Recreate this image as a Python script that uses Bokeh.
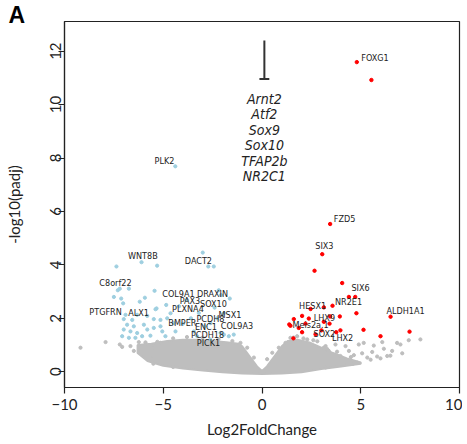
from bokeh.plotting import figure
from bokeh.models import Range1d, FixedTicker
from bokeh.embed import file_html
from bokeh.resources import INLINE
from bokeh.core.properties import value

# ---------------- data ----------------
x_ticks = [-10, -5, 0, 5, 10]
x_tick_labels = ["−10", "−5", "0", "5", "10"]
y_ticks = [0, 2, 4, 6, 8, 10, 12]
y_tick_labels = ["0", "2", "4", "6", "8", "10", "12"]

# outline of the dense non-significant core (log2FC, -log10 padj)
core_x = [-6.3, -5.6, -4.8, -4.0, -3.2, -2.5, -1.8, -1.2,
          -1.0, -0.6, -0.25, 0.0, 0.25, 0.6, 1.0,
          1.3, 1.8, 2.4, 3.0, 3.6, 4.3, 5.0,
          5.0, 4.0, 3.0, 2.0, 1.0, 0.0, -1.0, -2.0, -3.0, -4.0, -5.0, -5.8, -6.3]
core_y = [1.0, 1.05, 1.15, 1.2, 1.2, 1.15, 1.1, 1.05,
          0.95, 0.55, 0.2, 0.03, 0.2, 0.55, 0.95,
          1.15, 1.2, 1.1, 0.9, 0.7, 0.5, 0.35,
          0.3, 0.2, 0.1, -0.02, -0.07, -0.08, -0.07, -0.02, 0.05, 0.12, 0.22, 0.4, 0.7]

# scattered non-significant genes
gray_x = [8.02, 7.43, 7.01, 6.84, 6.09, 5.66, 5.15, 4.90, 4.23, 3.72, 6.17, 6.59, 7.10,
          5.58, 5.07, 4.65, 4.40, 6.34, 5.83, 5.33, 3.97, 3.38, 3.13, 3.47, 4.14, 3.64,
          4.82, 3.22, -9.19, -7.92, -7.20, -7.08, -6.66, -6.24, -5.90, -6.49, -6.07,
          -5.65, -5.14, -5.48, -5.14, -3.11, -1.09, -0.75, -0.41, 0.26, 0.52, 0.85, 1.19,
          1.44, 1.78, 2.29, 2.80, 3.22, -4.5, -3.8, -3.0, -2.2, -1.5, 1.6, 2.1, 2.6, 3.3,
          3.8, 4.5, -5.9, -5.3, -5.5, -4.5, 4.6, 5.5, 6.0, 6.5]
gray_y = [1.21, 1.18, 1.02, 1.08, 1.11, 0.98, 1.08, 1.02, 0.96, 1.02, 0.86, 0.78, 0.69,
          0.74, 0.69, 0.62, 0.78, 0.59, 0.57, 0.53, 0.59, 0.78, 0.90, 0.47, 0.28, 0.22,
          0.34, 0.16, 0.90, 1.11, 1.02, 0.93, 0.96, 1.11, 1.02, 0.78, 0.65,
          0.53, 0.47, 0.90, 1.08, 0.90, 1.08, 0.90, 0.53, 0.47, 0.71, 0.90, 1.08,
          1.27, 1.33, 1.21, 1.14, 0.96, 1.25, 1.30, 1.28, 1.22, 1.15, 1.28, 1.25, 1.18, 0.85,
          0.75, 0.55, 1.10, 1.12, 0.30, 0.18, 0.30, 0.45, 0.50, 0.60]

# significantly down-regulated genes (blue)
down_x = [-4.39, -6.10, -5.31, -7.37, -3.00, -2.72, -2.44, -6.74, -7.20, -7.30,
          -7.50, -7.13, -6.19, -5.93, -5.44, -7.03, -5.34, -1.63, -2.07, -2.19,
          -4.85, -5.39, -5.81, -5.48, -5.14, -6.91, -7.00, -6.57, -6.32,
          -6.83, -6.49, -5.98, -7.00, -6.66, -6.32, -5.81, -5.48, -5.14,
          -7.08, -6.74, -6.41, -6.07, -5.65, -5.05, -4.63, -4.47, -4.80, -4.89, -4.38,
          -1.93, -2.27, -1.93, -1.68, -2.61, -3.28, -3.45, -3.79, -2.10, -2.61, -1.43,
          -3.20, -2.90, -4.00, -3.60, -2.40, -4.20]
down_y = [7.69, 4.10, 3.97, 3.94, 4.46, 3.94, 3.94, 3.11, 3.11, 3.05,
          2.80, 2.74, 2.62, 2.77, 3.03, 2.56, 2.37, 2.74, 2.87, 3.05,
          2.50, 2.34, 2.09, 1.97, 1.94, 2.13, 1.97, 1.94, 2.13,
          1.76, 1.70, 1.76, 1.58, 1.51, 1.45, 1.58, 1.64, 1.70,
          1.33, 1.27, 1.27, 1.33, 1.35, 1.51, 2.19, 1.82, 2.00, 1.33, 1.51,
          2.19, 2.00, 1.39, 1.33, 1.21, 1.33, 1.51, 2.68, 1.45, 1.82, 1.39,
          2.20, 1.70, 1.80, 2.00, 2.40, 2.45]

# significantly up-regulated genes (red)
up_x = [4.80, 5.54, 3.45, 3.05, 2.66, 4.06, 4.40, 4.72, 3.57, 2.46, 3.13, 4.78, 6.51,
        3.94, 3.45, 1.61, 2.03, 2.37, 3.13, 3.42, 1.38, 1.44, 1.86, 2.20, 2.03, 3.01,
        2.71, 3.76, 3.97, 5.14, 6.00, 7.47, 1.59]
up_y = [11.59, 10.92, 5.53, 4.40, 3.78, 3.32, 2.80, 2.80, 2.47, 2.35, 2.41, 2.19, 2.06,
        2.07, 2.07, 1.97, 2.09, 1.99, 1.87, 1.80, 1.77, 1.72, 1.64, 1.80, 1.48, 1.55,
        1.40, 1.48, 1.55, 1.57, 1.33, 1.50, 1.25]

up_labels = ["FOXG1", "FZD5", "SIX3", "SIX6", "NR2E1", "HESX1", "LHX9", "Meis2a.1",
             "SOX2", "LHX2", "ALDH1A1"]
up_label_x = [5.72, 4.18, 3.16, 4.99, 4.38, 2.56, 3.16, 2.46, 3.16, 4.08, 7.27]
up_label_y = [11.74, 5.72, 4.69, 3.14, 2.62, 2.47, 2.03, 1.74, 1.40, 1.26, 2.29]

down_labels = ["PLK2", "WNT8B", "DACT2", "C8orf22", "COL9A1", "DRAXIN", "PAX3", "SOX10",
               "PTGFRN", "ALX1", "PLXNA4", "MSX1", "PCDH8", "BMPER", "ENC1", "COL9A3",
               "PCDH18", "PICK1"]
down_label_x = [-4.94, -6.03, -3.22, -7.42, -4.23, -2.51, -3.65, -2.46,
                -7.92, -6.25, -3.75, -1.62, -2.61, -4.03, -2.84, -1.27, -2.76, -2.71]
down_label_y = [7.87, 4.32, 4.14, 3.32, 2.92, 2.92, 2.66, 2.55,
                2.25, 2.18, 2.33, 2.14, 1.96, 1.81, 1.66, 1.70, 1.37, 1.07]

# inhibition annotation
tbar_x = 0.12
tbar_top = 12.4
tbar_bottom = 10.96
tbar_half = 0.25
tf_names = ["Arnt2", "Atf2", "Sox9", "Sox10", "TFAP2b", "NR2C1"]
tf_y = [10.22, 9.64, 9.06, 8.48, 7.90, 7.32]

panel_letter = "A"

# ---------------- styling ----------------
GRAY = "#BEBEBE"
BLUE = "#9ECFE0"
RED = "#FF0000"
INK = "#222222"
AXFONT = "Lato"
LABFONT = "'DejaVu Sans Condensed', Roboto"

p = figure(width=462, height=440,
           x_range=Range1d(-10, 10), y_range=Range1d(-0.59, 13.11),
           output_backend="svg", toolbar_location=None,
           min_border_left=64, min_border_right=3, min_border_top=21, min_border_bottom=48)
p.grid.visible = False
p.outline_line_color = INK
p.outline_line_width = 1.2
p.background_fill_color = "white"
p.border_fill_color = "white"

p.title.text = panel_letter
p.title.align = "left"
p.title.vertical_align = "bottom"
p.title.offset = -56
p.title.standoff = -13
p.title.text_font = "Liberation Sans"
p.title.text_font_style = "bold"
p.title.text_font_size = "23px"
p.title.text_color = "black"

p.patch(core_x, core_y, fill_color=GRAY, line_color=GRAY, line_width=2)
p.scatter(gray_x, gray_y, size=3.2, color=GRAY)
p.scatter(down_x, down_y, size=3.2, color=BLUE)
p.scatter(up_x, up_y, size=3.4, color=RED)

p.text(up_label_x, up_label_y, text=up_labels, text_font=value(LABFONT),
       text_font_size="9px", text_align="center", text_baseline="middle", text_color=INK)
p.text(down_label_x, down_label_y, text=down_labels, text_font=value(LABFONT),
       text_font_size="9px", text_align="center", text_baseline="middle", text_color=INK)

p.segment(x0=[tbar_x], y0=[tbar_top], x1=[tbar_x], y1=[tbar_bottom], line_color="#333333", line_width=2)
p.segment(x0=[tbar_x - tbar_half], y0=[tbar_bottom], x1=[tbar_x + tbar_half], y1=[tbar_bottom],
          line_color="#333333", line_width=2)
p.text([tbar_x] * len(tf_names), tf_y, text=tf_names, text_font=value(LABFONT),
       text_font_style="italic", text_font_size="14px", text_align="center",
       text_baseline="alphabetic", text_color=INK)

# axes
p.xaxis.ticker = FixedTicker(ticks=x_ticks)
p.xaxis.major_label_overrides = {t: s for t, s in zip(x_ticks, x_tick_labels)}
p.yaxis.ticker = FixedTicker(ticks=y_ticks)
p.yaxis.major_label_overrides = {t: s for t, s in zip(y_ticks, y_tick_labels)}
p.yaxis.major_label_orientation = "vertical"
p.xaxis.axis_label = "Log2FoldChange"
p.yaxis.axis_label = "-log10(padj)"
for ax in (p.xaxis, p.yaxis):
    ax.axis_line_color = INK
    ax.axis_line_width = 1.2
    ax.major_tick_line_color = INK
    ax.major_tick_line_width = 1.2
    ax.major_tick_out = 6
    ax.major_tick_in = 0
    ax.minor_tick_out = 0
    ax.minor_tick_in = 0
    ax.major_label_text_font = AXFONT
    ax.major_label_text_font_size = "15px"
    ax.major_label_text_color = INK
    ax.axis_label_text_font = AXFONT
    ax.axis_label_text_font_size = "15px"
    ax.axis_label_text_font_style = "normal"
    ax.axis_label_text_color = INK
p.xaxis.major_label_standoff = 5
p.xaxis.axis_label_standoff = 7
p.yaxis.major_label_standoff = -3
p.yaxis.axis_label_standoff = 25

open("out.html", "w").write(file_html(p, INLINE))
